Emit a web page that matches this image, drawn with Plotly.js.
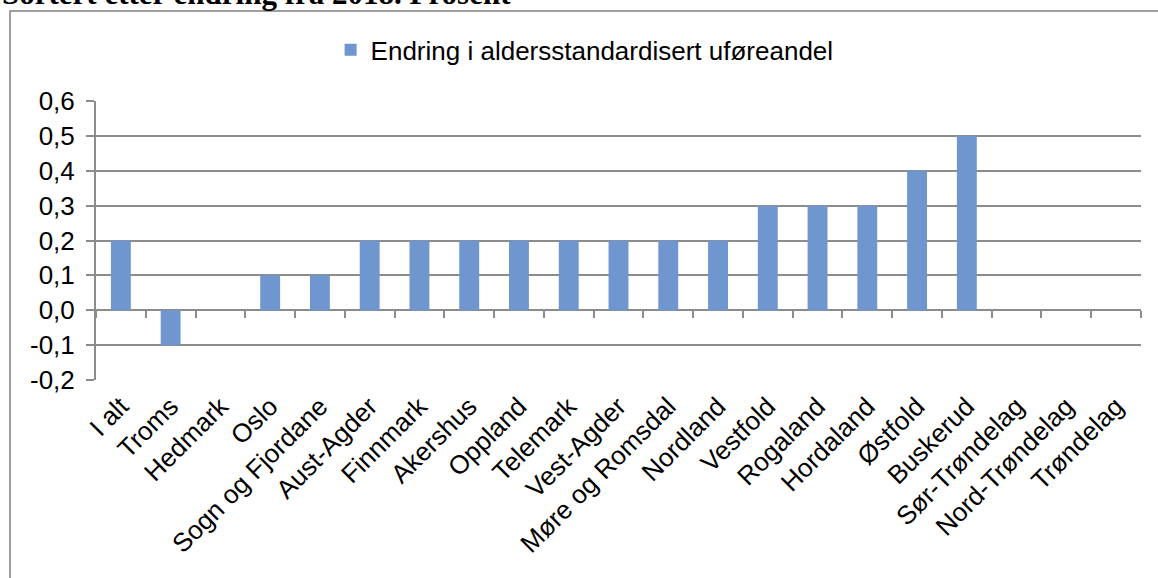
<!DOCTYPE html>
<html>
<head>
<meta charset="utf-8">
<script src="https://cdn.plot.ly/plotly-3.0.1.min.js"></script>
<style>html,body{margin:0;padding:0;background:#fff;}#chart{width:1158px;height:578px;}</style>
</head>
<body>
<div id="chart"></div>
<script>
const categories = ["I alt","Troms","Hedmark","Oslo","Sogn og Fjordane","Aust-Agder","Finnmark","Akershus","Oppland","Telemark","Vest-Agder","Møre og Romsdal","Nordland","Vestfold","Rogaland","Hordaland","Østfold","Buskerud","Sør-Trøndelag","Nord-Trøndelag","Trøndelag"];
const values = [0.2,-0.1,0,0.1,0.1,0.2,0.2,0.2,0.2,0.2,0.2,0.2,0.2,0.3,0.3,0.3,0.4,0.5,null,null,null];
const seriesName = "Endring i aldersstandardisert uføreandel";
const yTickVals = [-0.2,-0.1,0,0.1,0.2,0.3,0.4,0.5,0.6];
const yTickText = ["-0,2","-0,1","0,0","0,1","0,2","0,3","0,4","0,5","0,6"];
const titleText = "Sortert etter endring fra 2018. Prosent";

const gridColor = "#8c8c8c";
const font = "Liberation Sans, Arial, sans-serif";

const traces = [
  {type:"bar", x:categories, y:values, name:seriesName, marker:{color:"#7096cf"}, xaxis:"x", yaxis:"y", hoverinfo:"skip"},
  {type:"bar", x:categories, y:values, name:"", showlegend:false, marker:{color:"rgba(0,0,0,0)"}, xaxis:"x2", yaxis:"y", hoverinfo:"skip"}
];

const layout = {
  width:1158, height:578,
  margin:{l:96, r:17, t:101, b:198},
  paper_bgcolor:"#fff", plot_bgcolor:"#fff",
  font:{family:font, color:"#000", size:26},
  bargap:0.6,
  showlegend:true,
  legend:{orientation:"h", x:0.2245, xanchor:"left", y:1.183, yanchor:"middle", font:{size:26, family:font}, bgcolor:"rgba(0,0,0,0)"},
  xaxis:{type:"category", tickangle:-45, ticks:"", ticklabelstandoff:5, showgrid:false, showline:false, zeroline:false, tickfont:{size:26, family:font}, automargin:false},
  xaxis2:{type:"category", matches:"x", overlaying:"x", anchor:"free", position:0.25, ticks:"outside", tickson:"boundaries", ticklen:7, tickwidth:2, tickcolor:gridColor, showticklabels:false, showgrid:false, showline:false, zeroline:false},
  yaxis:{range:[-0.2,0.6], tickvals:yTickVals, ticktext:yTickText, ticks:"outside", ticklen:8, tickwidth:2, tickcolor:gridColor, ticklabelstandoff:6, showgrid:true, gridcolor:gridColor, gridwidth:2, showline:true, linecolor:gridColor, linewidth:2, zeroline:false, tickfont:{size:26, family:font}, automargin:false},
  shapes:[
    {type:"rect", xref:"paper", yref:"paper", x0:-0.0823, x1:1.2, y0:-1, y1:1.3226, line:{color:"#808080", width:1.5}, fillcolor:"rgba(0,0,0,0)", layer:"below"}
  ],
  annotations:[
    {text:"<b>"+titleText+"</b>", xref:"paper", yref:"paper", x:-0.0919, xanchor:"left", y:1.3154, yanchor:"bottom", showarrow:false, font:{family:"Liberation Serif, Times New Roman, serif", size:31, color:"#000"}}
  ]
};

Plotly.newPlot("chart", traces, layout, {displayModeBar:false, staticPlot:true});
</script>
</body>
</html>
